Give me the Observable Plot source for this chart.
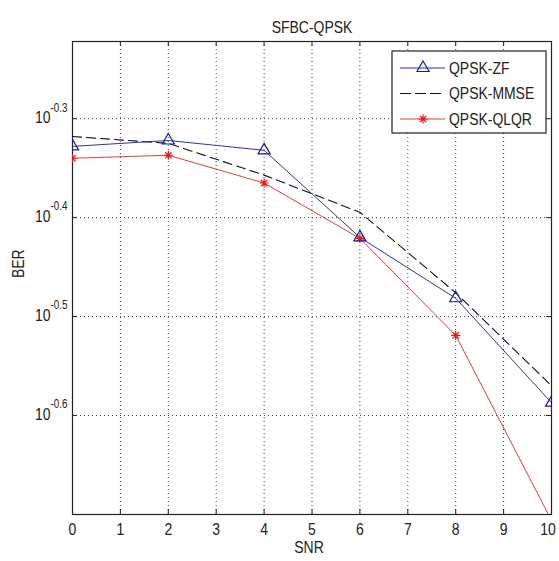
<!DOCTYPE html>
<html><head><meta charset="utf-8">
<script src="https://cdn.jsdelivr.net/npm/d3@7"></script>
<script src="https://cdn.jsdelivr.net/npm/@observablehq/plot@0.6"></script>
<style>body{margin:0;background:#fff;}</style>
</head><body><div id="chart"></div>
<script>
// ---- data ----
const snr = [0, 2, 4, 6, 8, 10];
const berZF   = [0.4699, 0.4764, 0.4656, 0.3802, 0.3300, 0.2588];
const berMMSE = [0.4808, 0.4732, 0.4395, 0.4031, 0.3342, 0.2692];
const berQLQR = [0.4571, 0.4603, 0.4315, 0.3793, 0.3027, 0.1968];
const seriesNames = ["QPSK-ZF", "QPSK-MMSE", "QPSK-QLQR"];
const xTicks = [0, 1, 2, 3, 4, 5, 6, 7, 8, 9, 10];
const yTickExps = ["-0.6", "-0.5", "-0.4", "-0.3"];
const titleText = "SFBC-QPSK";
const xLabel = "SNR";
const yLabel = "BER";

const yTicks = yTickExps.map(e => Math.pow(10, +e));
const yDomain = [Math.pow(10, -0.70), Math.pow(10, -0.222)];

const W = 559, H = 561, ML = 72, MR = 8, MT = 41, MB = 47;
const FW = W - ML - MR, FH = H - MT - MB;
const FONT = "'Liberation Sans',Arial,Helvetica,sans-serif";
const SQUEEZE = 0.82;
const TXT = "#222";
const BLUE = "#2b35a6", RED = "#e0403a", REDM = "#ee1111";

const rows = (vals, name) => snr.map((x, i) => ({x, y: vals[i], name}));
const dZF = rows(berZF, seriesNames[0]);
const dMM = rows(berMMSE, seriesNames[1]);
const dQL = rows(berQLQR, seriesNames[2]);

const star = {draw(ctx, size) {
  const r = Math.sqrt(size / Math.PI), d = r * 0.7071;
  ctx.moveTo(-r, 0); ctx.lineTo(r, 0);
  ctx.moveTo(0, -r); ctx.lineTo(0, r);
  ctx.moveTo(-d, -d); ctx.lineTo(d, d);
  ctx.moveTo(-d, d); ctx.lineTo(d, -d);
}};

const chart = Plot.plot({
  width: W, height: H,
  marginLeft: ML, marginRight: MR, marginTop: MT, marginBottom: MB,
  style: {fontFamily: FONT, fontSize: "17px", color: TXT, background: "#fff"},
  x: {domain: [0, 10], label: null},
  y: {type: "log", domain: yDomain, axis: null, label: null},
  marks: [
    Plot.ruleX(xTicks.slice(1, -1), {x: d => d, stroke: "#000", strokeOpacity: 0.75, strokeDasharray: "1 3"}),
    Plot.ruleY(yTicks, {y: d => d, stroke: "#000", strokeOpacity: 0.75, strokeDasharray: "1 3"}),
    // inward ticks on all four sides
    Plot.tickX(xTicks, {x: d => d, insetTop: FH - 5, stroke: "#222"}),
    Plot.tickX(xTicks, {x: d => d, insetBottom: FH - 5, stroke: "#222"}),
    Plot.tickY(yTicks, {y: d => d, insetRight: FW - 5, stroke: "#222"}),
    Plot.tickY(yTicks, {y: d => d, insetLeft: FW - 5, stroke: "#222"}),
    Plot.frame({stroke: "#222", strokeWidth: 1.2}),
    // series
    Plot.line(dMM, {x: "x", y: "y", stroke: "#111", strokeWidth: 1.1, strokeDasharray: "9 5", clip: true}),
    Plot.line(dQL, {x: "x", y: "y", stroke: RED, strokeWidth: 1, clip: true}),
    Plot.line(dZF, {x: "x", y: "y", stroke: BLUE, strokeWidth: 1, clip: true}),
    Plot.dot(dQL, {x: "x", y: "y", symbol: star, r: 4.5, stroke: REDM, strokeWidth: 1.2, clip: true}),
    Plot.dot(dZF, {x: "x", y: "y", symbol: "triangle", r: 4.5, stroke: "#1a1ab0", fill: "none", strokeWidth: 1.2, clip: true}),
    // x tick labels
    Plot.axisX(xTicks, {tickSize: 0, tickPadding: 8, label: null, fill: TXT, fontSize: 17}),
    // y tick labels: 10 with superscript exponent
    Plot.text(yTicks, {y: d => d, frameAnchor: "left", text: () => "10", textAnchor: "end", dx: -22, dy: -1, fill: TXT, fontSize: 17}),
    Plot.text(yTicks, {y: d => d, frameAnchor: "left", text: (d, i) => yTickExps[i], textAnchor: "start", dx: -22, dy: -11, fill: TXT, fontSize: 12}),
    // title and axis labels
    Plot.text([titleText], {frameAnchor: "top", dy: -21, fill: TXT, fontSize: 17}),
    Plot.text([xLabel], {frameAnchor: "bottom", dy: 38, dx: -3, fill: TXT, fontSize: 17}),
    Plot.text([yLabel], {frameAnchor: "left", dx: -54, rotate: -90, fill: TXT, fontSize: 17})
  ]
});

// legend (inside plot, top right)
const svg = d3.select(chart);
const lg = svg.append("g").attr("font-family", FONT).attr("font-size", 17).attr("fill", TXT);
const bx = 392, by = 51, bw = 154, bh = 82;
lg.append("rect").attr("x", bx).attr("y", by).attr("width", bw).attr("height", bh)
  .attr("fill", "#fff").attr("stroke", "#222").attr("stroke-width", 1.2);
const items = [
  {name: seriesNames[0], stroke: BLUE, dash: null, marker: "tri", mcol: "#1a1ab0"},
  {name: seriesNames[1], stroke: "#111", dash: "11 4", marker: null},
  {name: seriesNames[2], stroke: RED, dash: null, marker: "star", mcol: REDM}
];
items.forEach((it, i) => {
  const y = 68 + i * 25.5;
  const l = lg.append("line").attr("x1", 400).attr("x2", 445).attr("y1", y).attr("y2", y)
    .attr("stroke", it.stroke).attr("stroke-width", 1.1);
  if (it.dash) l.attr("stroke-dasharray", it.dash);
  const cx = 423;
  if (it.marker === "tri") {
    lg.append("path").attr("d", d3.symbol(d3.symbolTriangle, Math.PI * 4.5 * 4.5)())
      .attr("transform", `translate(${cx},${y})`).attr("fill", "none").attr("stroke", it.mcol).attr("stroke-width", 1.2);
  } else if (it.marker === "star") {
    lg.append("path").attr("d", d3.symbol(star, Math.PI * 4.5 * 4.5)())
      .attr("transform", `translate(${cx},${y})`).attr("fill", "none").attr("stroke", it.mcol).attr("stroke-width", 1.2);
  }
  lg.append("text").attr("x", 449).attr("y", y).attr("dy", "0.35em")
    .attr("text-anchor", "start").text(it.name);
});

document.getElementById("chart").appendChild(chart);

// horizontally condense all text like the reference's narrow font
chart.querySelectorAll("text").forEach(t => {
  const w = t.getComputedTextLength();
  if (w > 0) {
    t.setAttribute("textLength", (w * SQUEEZE).toFixed(2));
    t.setAttribute("lengthAdjust", "spacingAndGlyphs");
  }
});
// keep the last x tick label inside the picture, as in the reference
const xLabels = chart.querySelectorAll('g[aria-label="x-axis tick label"] text');
if (xLabels.length) xLabels[xLabels.length - 1].setAttribute("dx", "-3.5");
</script>
</body></html>
